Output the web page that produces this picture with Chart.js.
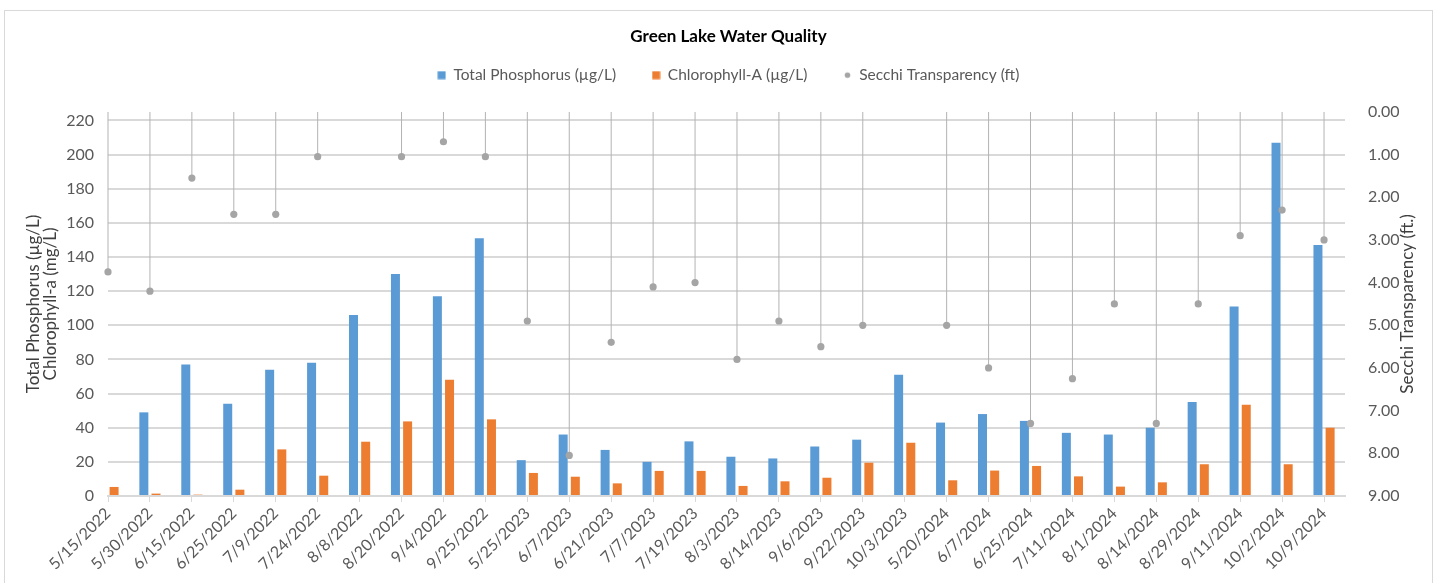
<!DOCTYPE html>
<html lang="en">
<head>
    <meta charset="UTF-8">
    <title>Green Lake Water Quality</title>
    <script src="https://cdn.jsdelivr.net/npm/chart.js@4.4.1/dist/chart.umd.min.js"></script>
    <style>
        body {
            margin: 0;
            background: #fff;
        }
        .frame {
            position: absolute;
            left: 4px;
            top: 10px;
            width: 1427px;
            height: 600px;
            border: 1px solid #d9d9d9;
        }
        .chart-box {
            position: absolute;
            left: 0;
            top: 0;
            width: 1437px;
            height: 583px;
        }
    </style>
</head>
<body>
    <div class="frame"></div>
    <div class="chart-box">
        <canvas id="waterChart"></canvas>
    </div>

    <script>
        // sampling dates
        const dates = ['5/15/2022', '5/30/2022', '6/15/2022', '6/25/2022', '7/9/2022', '7/24/2022', '8/8/2022', '8/20/2022', '9/4/2022', '9/25/2022',
            '5/25/2023', '6/7/2023', '6/21/2023', '7/7/2023', '7/19/2023', '8/3/2023', '8/14/2023', '9/6/2023', '9/22/2023', '10/3/2023',
            '5/20/2024', '6/7/2024', '6/25/2024', '7/11/2024', '8/1/2024', '8/14/2024', '8/29/2024', '9/11/2024', '10/2/2024', '10/9/2024'];

        // Total Phosphorus (ug/L)
        const phosphorus = [null, 49, 77, 54, 74, 78, 106, 130, 117, 151,
            21, 36, 27, 20, 32, 23, 22, 29, 33, 71,
            43, 48, 44, 37, 36, 40, 55, 111, 207, 147];

        // Chlorophyll-a
        const chlorophyll = [5.3, 1.4, 0.8, 3.7, 27.3, 11.9, 31.8, 43.7, 68.1, 44.9,
            13.5, 11.3, 7.4, 14.7, 14.7, 5.9, 8.6, 10.7, 19.5, 31.2,
            9.2, 14.9, 17.6, 11.5, 5.5, 8, 18.6, 53.5, 18.6, 40];

        // Secchi transparency (ft), reversed right axis
        const secchi = [3.75, 4.2, 1.55, 2.4, 2.4, 1.05, null, 1.05, 0.7, 1.05,
            4.9, 8.05, 5.4, 4.1, 4.0, 5.8, 4.9, 5.5, 5.0, null,
            5.0, 6.0, 7.3, 6.25, 4.5, 7.3, 4.5, 2.9, 2.3, 3.0];

        // axis ticks
        const leftTicks = [0, 20, 40, 60, 80, 100, 120, 140, 160, 180, 200, 220];
        const rightTicks = [0, 1, 2, 3, 4, 5, 6, 7, 8, 9];

        const font = 'Lato';
        const textGray = '#595959';
        const gridGray = '#d9d9d9';

        function marker(color, round) {
            const c = document.createElement('canvas');
            c.width = 9;
            c.height = 9;
            const g = c.getContext('2d');
            g.fillStyle = color;
            if (round) {
                g.beginPath();
                g.arc(4.5, 4.5, 2.8, 0, Math.PI * 2);
                g.fill();
            } else {
                g.fillRect(0.5, 0.5, 8, 8);
            }
            return c;
        }

        // right axis title reads bottom-to-top like Excel
        const rightTitle = {
            id: 'rightTitle',
            afterDraw(chart) {
                const ctx = chart.ctx;
                const area = chart.chartArea;
                ctx.save();
                ctx.translate(1408, (area.top + area.bottom) / 2);
                ctx.rotate(-Math.PI / 2);
                ctx.font = '17px ' + font;
                ctx.fillStyle = '#404040';
                ctx.textAlign = 'center';
                ctx.textBaseline = 'middle';
                ctx.fillText('Secchi Transparency (ft.)', 0, 0);
                ctx.restore();
            }
        };

        const ctx = document.getElementById('waterChart').getContext('2d');
        const waterChart = new Chart(ctx, {
            type: 'bar',
            data: {
                datasets: [{
                    label: 'Total Phosphorus (µg/L)',
                    data: phosphorus.map((v, i) => ({ x: i, y: v })),
                    backgroundColor: '#5b9bd5',
                    yAxisID: 'y',
                    order: 3,
                    categoryPercentage: 0.58,
                    barPercentage: 0.74
                }, {
                    label: 'Chlorophyll-A (µg/L)',
                    data: chlorophyll.map((v, i) => ({ x: i, y: v })),
                    backgroundColor: '#ed7d31',
                    yAxisID: 'y',
                    order: 3,
                    categoryPercentage: 0.58,
                    barPercentage: 0.74
                }, {
                    // drop lines from the top of the plot to each Secchi point
                    label: 'drop',
                    data: secchi.map((v, i) => ({ x: i, y: v === null ? null : [0, v] })),
                    backgroundColor: '#b3b3b3',
                    yAxisID: 'y2',
                    grouped: false,
                    maxBarThickness: 1,
                    clip: false,
                    order: 1
                }, {
                    type: 'line',
                    label: 'Secchi Transparency (ft)',
                    data: secchi.map((v, i) => ({ x: i, y: v })),
                    yAxisID: 'y2',
                    showLine: false,
                    pointRadius: 3.6,
                    pointBorderWidth: 0,
                    pointBackgroundColor: '#a5a5a5',
                    borderColor: '#a5a5a5',
                    clip: false,
                    order: 0
                }]
            },
            options: {
                responsive: true,
                maintainAspectRatio: false,
                animation: false,
                layout: {
                    padding: { left: 20, right: 0, top: 0, bottom: 0 }
                },
                plugins: {
                    title: {
                        display: true,
                        text: 'Green Lake Water Quality',
                        color: '#000',
                        font: { family: font, size: 17, weight: 'bold' },
                        padding: { top: 26, bottom: -15 }
                    },
                    legend: {
                        labels: {
                            usePointStyle: true,
                            boxWidth: 8,
                            boxHeight: 8,
                            padding: 36,
                            color: textGray,
                            font: { family: font, size: 15.5 },
                            generateLabels(chart) {
                                const items = Chart.defaults.plugins.legend.labels.generateLabels(chart)
                                    .filter(it => it.datasetIndex !== 2)
                                    .sort((a, b) => a.datasetIndex - b.datasetIndex);
                                items.forEach(it => {
                                    const ds = chart.data.datasets[it.datasetIndex];
                                    const color = ds.type === 'line' ? ds.pointBackgroundColor : ds.backgroundColor;
                                    it.pointStyle = marker(color, ds.type === 'line');
                                });
                                return items;
                            }
                        }
                    },
                    tooltip: { enabled: false }
                },
                scales: {
                    x: {
                        type: 'linear',
                        min: 0,
                        max: 29.5,
                        offset: false,
                        grid: {
                            offset: false,
                            drawOnChartArea: false,
                            color: gridGray,
                            tickLength: 6
                        },
                        border: { color: gridGray, width: 2 },
                        ticks: {
                            autoSkip: false,
                            maxRotation: 45,
                            minRotation: 45,
                            padding: 2,
                            color: textGray,
                            font: { family: font, size: 16 },
                            callback: v => dates[v]
                        },
                        afterBuildTicks: s => {
                            s.ticks = dates.map((d, i) => ({ value: i }));
                        },
                        afterFit: s => { s.height = 87; }
                    },
                    // empty band between legend and plot area
                    xTop: {
                        type: 'linear',
                        position: 'top',
                        grid: { display: false },
                        border: { display: false },
                        ticks: { display: false },
                        afterFit: s => { s.height = 19; }
                    },
                    y: {
                        position: 'left',
                        min: 0,
                        max: 225,
                        grid: { color: gridGray, lineWidth: 2, drawTicks: false },
                        border: { display: false },
                        ticks: {
                            padding: 14,
                            color: textGray,
                            font: { family: font, size: 16 }
                        },
                        afterBuildTicks: s => {
                            s.ticks = leftTicks.map(v => ({ value: v }));
                        },
                        title: {
                            display: true,
                            text: ['Total Phosphorus (µg/L)', 'Chlorophyll-a (mg/L)'],
                            color: '#404040',
                            font: { family: font, size: 17, lineHeight: 1.0 },
                            padding: { top: 5, bottom: 0 }
                        },
                        afterFit: s => { s.width = 88; }
                    },
                    y2: {
                        position: 'right',
                        reverse: true,
                        min: 0,
                        max: 9,
                        grid: { display: false },
                        border: { display: false },
                        ticks: {
                            padding: 15,
                            color: textGray,
                            font: { family: font, size: 16 },
                            callback: v => v.toFixed(2)
                        },
                        afterBuildTicks: s => {
                            s.ticks = rightTicks.map(v => ({ value: v }));
                        },
                        afterFit: s => { s.width = 92; }
                    }
                }
            },
            plugins: [rightTitle]
        });
    </script>
</body>
</html>
